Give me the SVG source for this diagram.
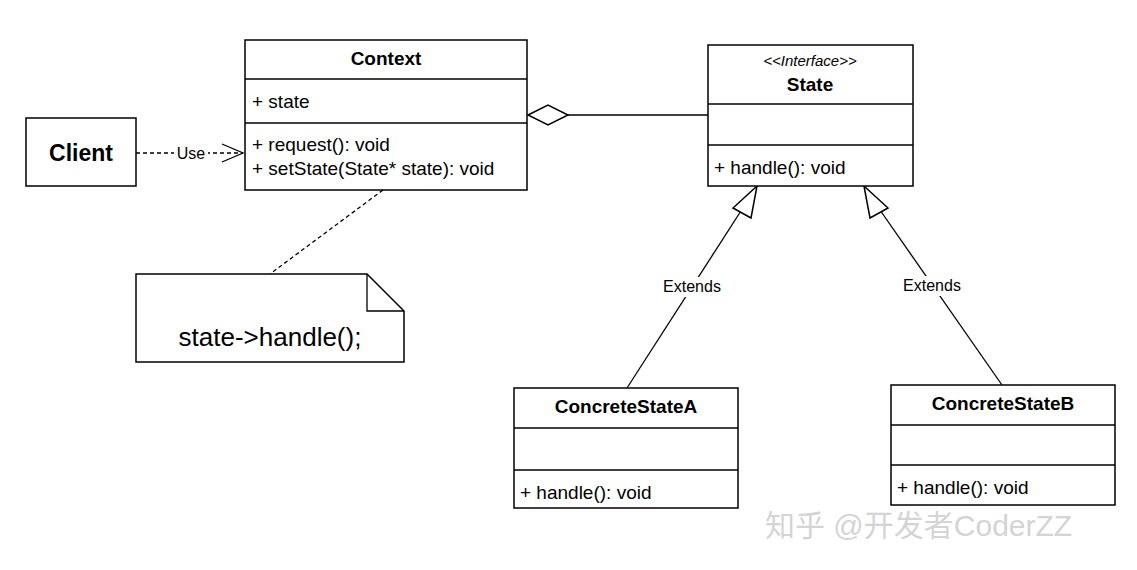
<svg xmlns="http://www.w3.org/2000/svg" width="1137" height="570" viewBox="0 0 1137 570">
<style>
.b{fill:#fff;stroke:#000;stroke-width:1.5}
.l{stroke:#000;stroke-width:1.3;fill:none}
text{font-family:"Liberation Sans",Arial,sans-serif;fill:#000}
.t{font-size:19px;font-weight:bold;text-anchor:middle}
.m{font-size:19px}
.s{font-size:16px;text-anchor:middle}
</style>
<rect width="1137" height="570" fill="#fff"/>
<g id="connectors">
<line class="l" x1="136" y1="153" x2="243" y2="153" stroke-dasharray="4,3"/>
<polyline class="l" points="222,144 243,153 222,162"/>
<rect x="174" y="143" width="34" height="20" fill="#fff"/>
<text class="s" x="191" y="159">Use</text>
<polygon class="b" points="528,115 548,105 568,115 548,125" stroke-width="1.3"/>
<line class="l" x1="568" y1="115" x2="708" y2="115"/>
<line class="l" x1="383" y1="190" x2="270" y2="274" stroke-dasharray="4,3"/>
<line class="l" x1="627" y1="388" x2="748" y2="200"/>
<polygon class="b" points="757,186 733,208 751,218" stroke-width="1.3"/>
<line class="l" x1="1002" y1="385" x2="873" y2="200"/>
<polygon class="b" points="864,186 870,218 888,208" stroke-width="1.3"/>
<rect x="655" y="277" width="74" height="20" fill="#fff"/>
<text class="s" x="692" y="292">Extends</text>
<rect x="895" y="276" width="74" height="20" fill="#fff"/>
<text class="s" x="932" y="291">Extends</text>
</g>
<g id="client"><rect class="b" x="26" y="118" width="110" height="68"/><text x="81" y="161" style="font-size:23px;font-weight:bold;text-anchor:middle">Client</text></g>
<g id="context"><rect class="b" x="245" y="40" width="282" height="150"/>
<line class="l" x1="245" y1="79" x2="527" y2="79"/><line class="l" x1="245" y1="123" x2="527" y2="123"/>
<text class="t" x="386" y="65">Context</text>
<text class="m" x="252" y="108">+ state</text>
<text class="m" x="252" y="151">+ request(): void</text>
<text class="m" x="252" y="175">+ setState(State* state): void</text></g>
<g id="note"><path class="b" d="M136,274H367L404,311V362H136Z"/><path class="l" d="M367,274V311H404"/>
<text x="270" y="346" style="font-size:26px;text-anchor:middle">state-&gt;handle();</text></g>
<g id="state"><rect class="b" x="708" y="45" width="205" height="141"/>
<line class="l" x1="708" y1="104" x2="913" y2="104"/><line class="l" x1="708" y1="145" x2="913" y2="145"/>
<text x="810" y="66" style="font-size:15px;font-style:italic;text-anchor:middle">&lt;&lt;Interface&gt;&gt;</text>
<text class="t" x="810" y="91">State</text>
<text class="m" x="714" y="174">+ handle(): void</text></g>
<g id="concreteA"><rect class="b" x="514" y="388" width="224" height="120"/>
<line class="l" x1="514" y1="428" x2="738" y2="428"/><line class="l" x1="514" y1="470" x2="738" y2="470"/>
<text class="t" x="626" y="413">ConcreteStateA</text>
<text class="m" x="520" y="499">+ handle(): void</text></g>
<g id="concreteB"><rect class="b" x="891" y="385" width="224" height="120"/>
<line class="l" x1="891" y1="425" x2="1115" y2="425"/><line class="l" x1="891" y1="465" x2="1115" y2="465"/>
<text class="t" x="1003" y="410">ConcreteStateB</text>
<text class="m" x="897" y="494">+ handle(): void</text></g>
<text x="765" y="536" style="font-family:'Liberation Sans','Noto Sans CJK SC',sans-serif;font-size:30px;fill:#c8c8c8;fill-opacity:0.8">知乎 @开发者CoderZZ</text>
</svg>
